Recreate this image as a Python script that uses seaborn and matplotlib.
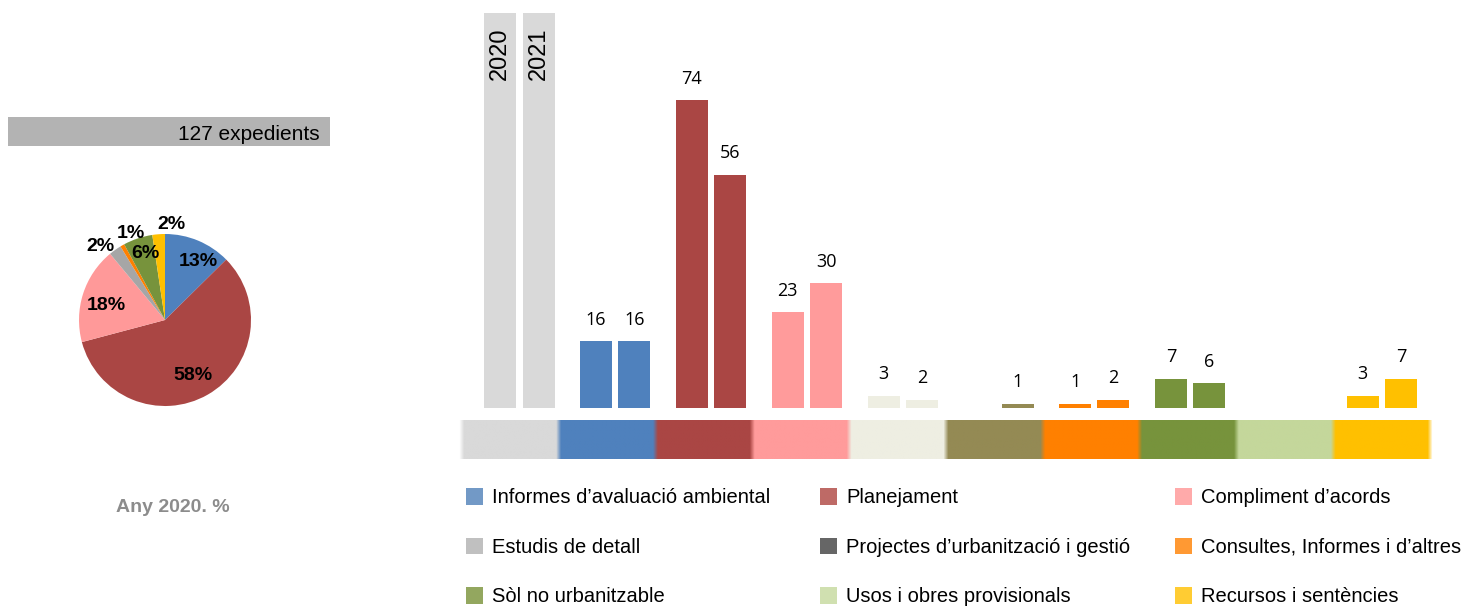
import numpy as np
import pandas as pd
import matplotlib
matplotlib.use("Agg")
import matplotlib.pyplot as plt
import seaborn as sns
from matplotlib.patches import Patch, Rectangle

# Expedients per category, two years (2020 -> pie too)
categories = [
    "Informes d’avaluació ambiental",
    "Planejament",
    "Compliment d’acords",
    "Estudis de detall",
    "Projectes d’urbanització i gestió",
    "Consultes, Informes i d’altres",
    "Sòl no urbanitzable",
    "Usos i obres provisionals",
    "Recursos i sentències",
]
years = ["2020", "2021"]
values_2020 = [16, 74, 23, 3, 0, 1, 7, 0, 3]
values_2021 = [16, 56, 30, 2, 1, 2, 6, 0, 7]
header_height = 95  # the grey "year" header bars

bar_colors = ["#D9D9D9", "#4F81BD", "#AA4644", "#FF9B9B", "#EEEEE2",
              "#948A54", "#FF8000", "#77933C", "#C4D79B", "#FFC000"]
pie_colors = {"Informes d’avaluació ambiental": "#4F81BD", "Planejament": "#AA4644",
              "Compliment d’acords": "#FF9999", "Estudis de detall": "#A6A6A6",
              "Consultes, Informes i d’altres": "#FF8000", "Sòl no urbanitzable": "#77933C",
              "Recursos i sentències": "#FFC000"}
legend_colors = ["#7299C6", "#C0C0C0", "#93A75F",
                 "#BE6A66", "#666666", "#D0E0B0",
                 "#FFAAAA", "#FF9933", "#FFCC33"]
legend_labels = [categories[0], categories[3], categories[6],
                 categories[1], categories[4], categories[7],
                 categories[2], categories[5], categories[8]]

sns.set_style("white")
plt.rcParams["font.family"] = ["Liberation Sans", "DejaVu Sans"]
plt.rcParams["text.color"] = "black"

W, H = 1468, 606
fig = plt.figure(figsize=(W / 100, H / 100), dpi=100)

# ---- bar chart, axes over the whole figure, limits map to pixels
ax = fig.add_axes([0, 0, 1, 1])
cat_all = ["any"] + categories
rows = []
for i, cat in enumerate(cat_all):
    for y, vals in zip(years, [values_2020, values_2021]):
        rows.append({"categoria": cat, "any": y,
                     "valor": header_height if i == 0 else vals[i - 1]})
df = pd.DataFrame(rows)

sns.barplot(data=df, x="categoria", y="valor", hue="any", order=cat_all,
            hue_order=years, width=0.8, gap=0.165, saturation=1,
            legend=False, errorbar=None, ax=ax)

for cont, year, vals in zip(ax.containers, years, [values_2020, values_2021]):
    for bar, col in zip(cont, bar_colors):
        bar.set_facecolor(col)
        bar.set_edgecolor("none")
    labels = [""] + [str(v) if v > 0 else "" for v in vals]
    ax.bar_label(cont, labels=labels, padding=9, fontsize=13,
                 family=["Open Sans", "DejaVu Sans"], color="black")
    head = cont[0]
    ax.annotate(year, (head.get_x() + head.get_width() / 2, header_height),
                xytext=(0, -11), textcoords="offset points", rotation=90,
                ha="center", va="top", fontsize=17, color="black")

# colour strip under the bars, soft edges
n_px = 20
seg = 1.01
strip = [matplotlib.colors.to_rgb(c) for c in bar_colors for _ in range(n_px)]
strip = [(1, 1, 1)] + strip + [(1, 1, 1)]
x0 = -0.60 - seg / n_px
x1 = -0.60 + seg * len(bar_colors) + seg / n_px
ax.imshow(np.array([strip]), extent=(x0, x1, -12.2, -2.9), aspect="auto",
          interpolation="bilinear", zorder=0)

ax.set_xlim(-519.5 / 95.8, (W - 519.5) / 95.8)
ax.set_ylim((408 - H) / 4.162, 408 / 4.162)
ax.axis("off")

# ---- pie of 2020
pie_cats = [c for c, v in zip(categories, values_2020) if v > 0]
pie_vals = [v for v in values_2020 if v > 0]
total = sum(pie_vals)
pax = fig.add_axes([79 / W, (H - 406) / H, 172 / W, 172 / H])
wedges, _ = pax.pie(pie_vals, colors=[pie_colors[c] for c in pie_cats],
                    startangle=90, counterclock=False,
                    wedgeprops=dict(linewidth=0))
label_dist = [0.78, 0.72, 0.70, 1.14, 1.08, 0.81, 1.11]
label_shift = [-7, -3, 4, 6, -8, -2, -8]
for w, v, d, s in zip(wedges, pie_vals, label_dist, label_shift):
    ang = np.deg2rad((w.theta1 + w.theta2) / 2 + s)
    pax.text(d * np.cos(ang), d * np.sin(ang), f"{round(v / total * 100)}%",
             ha="center", va="center", fontsize=14, fontweight="bold",
             color="black")
pax.set_xlim(-1, 1)
pax.set_ylim(-1, 1)

# header band and caption
fig.add_artist(Rectangle((8 / W, (H - 146) / H), 322 / W, 29 / H,
                         transform=fig.transFigure, color="#B3B3B3", lw=0))
fig.text(320 / W, (H - 134) / H, f"{total} expedients", ha="right", va="center",
         fontsize=15, color="black")
fig.text(173 / W, (H - 507) / H, "Any 2020. %", ha="center", va="center",
         fontsize=14, fontweight="bold", color="#8C8C8C")

# legend, three columns
for col in range(3):
    handles = [Patch(facecolor=legend_colors[col * 3 + r], edgecolor="none",
                     label=legend_labels[col * 3 + r]) for r in range(3)]
    leg = fig.legend(handles=handles, loc="upper left",
                     bbox_to_anchor=([466, 820, 1175][col] / W, (H - 488) / H),
                     frameon=False, fontsize=14.5, handlelength=0.85,
                     handleheight=0.9, handletextpad=0.45, labelspacing=1.5,
                     borderpad=0, borderaxespad=0)
    for t in leg.get_texts():
        t.set_color("black")

fig.savefig("out.png", dpi=100)
